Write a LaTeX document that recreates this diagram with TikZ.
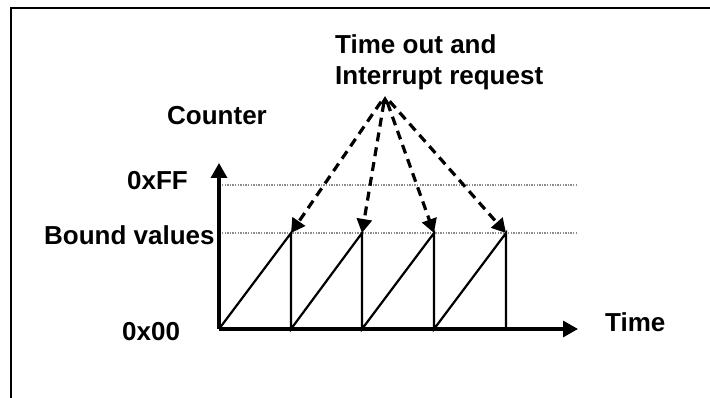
\documentclass[tikz,border=0pt]{standalone}
\usepackage{fontspec}
\setmainfont{Liberation Sans}
\usetikzlibrary{arrows.meta}
\begin{document}
\begin{tikzpicture}[x=1pt,y=-1pt,
  lbl/.style={inner sep=0pt,anchor=base west,font=\bfseries\fontsize{26}{30}\selectfont},
  axisline/.style={line width=3.2pt,-{Triangle[length=15pt,width=16pt]}},
  sawline/.style={line width=2.2pt,line join=miter},
  guide/.style={black!45,line width=1.3pt,dash pattern=on 1.3pt off 1.3pt},
  irqarrow/.style={line width=3.2pt,dash pattern=on 9pt off 6pt,shorten <=7pt,-{Triangle[length=14pt,width=15pt]}},
  frameline/.style={line width=2.2pt}]
\useasboundingbox (0,0) rectangle (710,398);
% frame
\coordinate (fr1) at (11,398);
\coordinate (fr2) at (11,8);
\coordinate (fr3) at (710,8);
\draw[frameline] (fr1) -- (fr2) -- (fr3);
% key points
\coordinate (o) at (219,329);
\coordinate (ytip) at (219,163);
\coordinate (xtip) at (578,329);
\coordinate (ffl) at (222,185);
\coordinate (ffr) at (578,185);
\coordinate (bvl) at (222,233);
\coordinate (bvr) at (578,233);
\coordinate (p1) at (291,233);
\coordinate (p2) at (362,233);
\coordinate (p3) at (434,233);
\coordinate (p4) at (506,233);
\coordinate (b1) at (291,329);
\coordinate (b2) at (362,329);
\coordinate (b3) at (434,329);
\coordinate (b4) at (506,329);
\coordinate (apex) at (385,96);
\coordinate (apexbase) at (385,104);
% guides
\draw[guide] (ffl) -- (ffr);
\draw[guide] (bvl) -- (bvr);
% sawtooth
\draw[sawline] (o) -- (p1) -- (b1) -- (p2) -- (b2) -- (p3) -- (b3) -- (p4) -- (b4);
% axes
\draw[axisline] (o) -- (ytip);
\draw[axisline] (o) -- (xtip);
% interrupt arrows
\draw[irqarrow] (apex) -- (p1);
\draw[irqarrow] (apex) -- (p2);
\draw[irqarrow] (apex) -- (p3);
\draw[irqarrow] (apex) -- (p4);
\draw[line width=2pt,-{Triangle[length=8pt,width=9pt]}] (apexbase) -- (apex);
% labels
\node[lbl] (t1) at (335,54) {Time out and};
\node[lbl] (t2) at (335,85) {Interrupt request};
\node[lbl] (cnt) at (167,125) {Counter};
\node[lbl] (ff) at (127,190) {0xFF};
\node[lbl] (bv) at (44,245) {Bound values};
\node[lbl] (zero) at (122,341) {0x00};
\node[lbl] (time) at (605,331) {Time};
\end{tikzpicture}
\end{document}
